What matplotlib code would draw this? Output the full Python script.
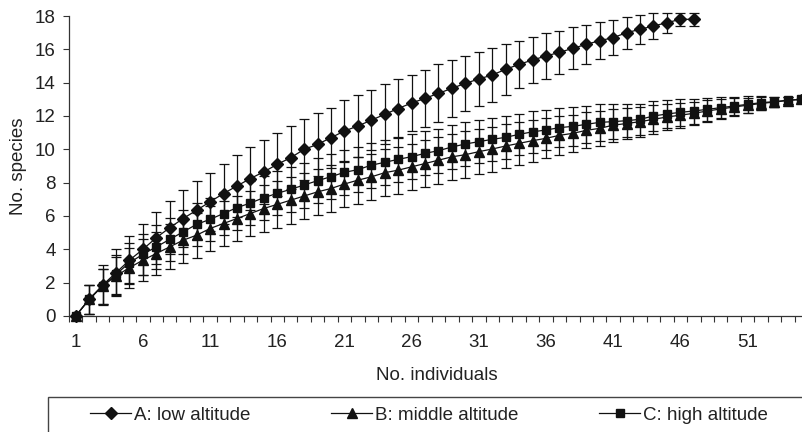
import numpy as np
import matplotlib
matplotlib.use("Agg")
import matplotlib.pyplot as plt
from matplotlib.patches import Rectangle

plt.rcParams['font.family'] = ['Liberation Sans', 'DejaVu Sans']

############################
# data
# A: low altitude (47 individuals)
low_mean = [0, 1.0, 1.85, 2.6, 3.35, 4.0, 4.7, 5.3, 5.85, 6.35,
            6.85, 7.35, 7.8, 8.25, 8.65, 9.1, 9.5, 10.0, 10.3, 10.7,
            11.1, 11.4, 11.75, 12.1, 12.45, 12.78, 13.06, 13.36, 13.66, 13.96,
            14.22, 14.46, 14.8, 15.1, 15.36, 15.6, 15.82, 16.06, 16.3, 16.52,
            16.7, 17.0, 17.2, 17.4, 17.6, 17.8, 17.8]
low_sd = [0, 0.85, 1.2, 1.4, 1.45, 1.55, 1.55, 1.6, 1.7, 1.75,
          1.75, 1.8, 1.85, 1.9, 1.9, 1.9, 1.9, 1.85, 1.9, 1.8,
          1.85, 1.85, 1.8, 1.8, 1.75, 1.7, 1.7, 1.74, 1.7, 1.64,
          1.64, 1.6, 1.52, 1.42, 1.36, 1.36, 1.3, 1.26, 1.16, 1.12,
          1.05, 0.95, 0.85, 0.78, 0.6, 0.4, 0.4]

# B: middle altitude (55 individuals)
mid_mean = [0, 1.0, 1.8, 2.4, 2.9, 3.35, 3.75, 4.15, 4.55, 4.85,
            5.25, 5.55, 5.85, 6.15, 6.45, 6.7, 6.95, 7.2, 7.45, 7.65,
            7.92, 8.15, 8.35, 8.6, 8.75, 8.95, 9.15, 9.35, 9.55, 9.68,
            9.86, 10.02, 10.2, 10.36, 10.52, 10.66, 10.84, 10.96, 11.14, 11.26,
            11.45, 11.55, 11.66, 11.8, 11.94, 12.05, 12.16, 12.3, 12.42, 12.54,
            12.65, 12.75, 12.84, 12.93, 13.0]
mid_sd = [0, 0.85, 1.05, 1.15, 1.2, 1.25, 1.3, 1.35, 1.35, 1.35,
          1.35, 1.35, 1.35, 1.35, 1.4, 1.4, 1.4, 1.4, 1.4, 1.4,
          1.4, 1.4, 1.4, 1.4, 1.4, 1.4, 1.4, 1.4, 1.4, 1.4,
          1.35, 1.35, 1.3, 1.3, 1.25, 1.2, 1.15, 1.12, 1.08, 1.05,
          1.0, 0.95, 0.9, 0.85, 0.8, 0.75, 0.7, 0.65, 0.6, 0.52,
          0.46, 0.4, 0.3, 0.2, 0]

# C: high altitude (55 individuals)
high_mean = [0, 1.0, 1.8, 2.5, 3.2, 3.7, 4.15, 4.6, 5.05, 5.5,
             5.8, 6.15, 6.5, 6.78, 7.1, 7.36, 7.6, 7.86, 8.12, 8.36,
             8.62, 8.78, 9.05, 9.22, 9.4, 9.56, 9.76, 9.92, 10.14, 10.32,
             10.46, 10.6, 10.72, 10.9, 11.05, 11.16, 11.3, 11.38, 11.5, 11.62,
             11.66, 11.72, 11.8, 12.0, 12.12, 12.22, 12.3, 12.4, 12.5, 12.6,
             12.7, 12.8, 12.86, 12.95, 13.0]
high_sd = [0, 0.85, 1.05, 1.15, 1.2, 1.25, 1.3, 1.3, 1.3, 1.3,
           1.3, 1.3, 1.32, 1.32, 1.32, 1.32, 1.35, 1.35, 1.35, 1.35,
           1.35, 1.35, 1.35, 1.35, 1.35, 1.35, 1.32, 1.32, 1.3, 1.3,
           1.3, 1.28, 1.28, 1.25, 1.25, 1.2, 1.18, 1.15, 1.12, 1.1,
           1.06, 1.0, 0.95, 0.9, 0.85, 0.8, 0.75, 0.7, 0.62, 0.55,
           0.5, 0.42, 0.3, 0.2, 0]

series = [("A: low altitude", low_mean, low_sd, "D", 5.8),
          ("B: middle altitude", mid_mean, mid_sd, "^", 7),
          ("C: high altitude", high_mean, high_sd, "s", 6)]

tick_labels = ["1", "6", "11", "16", "21", "26", "31", "36", "41", "46", "51"]
#############################################

ink = "#111111"
txt = "#222222"
fs = 13.5
fig = plt.figure(figsize=(8.03, 4.32), dpi=100)
ax = fig.add_axes([69 / 803, 116 / 432, 739 / 803, 300 / 432])

handles = []
for name, mean, sd, marker, ms in series:
    n = np.arange(1, len(mean) + 1)
    eb = ax.errorbar(n, mean, yerr=sd, fmt="none", ecolor=ink, elinewidth=0.9,
                     capsize=3.6, capthick=0.9)
    for art in eb.lines[1] + eb.lines[2]:
        art.set_clip_on(False)
    line, = ax.plot(n, mean, color=ink, lw=0.9, marker=marker, ms=ms,
                    mfc=ink, mec=ink, label=name, clip_on=False, zorder=3)
    handles.append(line)

ax.set_xlim(0.5, 55.5)
ax.set_ylim(0, 18)
ax.set_yticks(range(0, 19, 2))
ax.set_xticks(np.arange(0.5, 56, 1.0))
ax.set_xticklabels([])
ax.set_xticks([int(t) for t in tick_labels], minor=True)
ax.set_xticklabels(tick_labels, minor=True)
ax.tick_params(axis="x", which="major", direction="out", length=4.5, width=0.8, color="#333333")
ax.tick_params(axis="x", which="minor", length=0, pad=13, labelsize=fs, labelcolor=txt)
ax.tick_params(axis="y", direction="out", length=4.5, width=0.8, pad=5,
               labelsize=fs, labelcolor=txt, color="#333333")
for side in ["top", "right"]:
    ax.spines[side].set_visible(False)
for side in ["left", "bottom"]:
    ax.spines[side].set_color("#333333")
    ax.spines[side].set_linewidth(0.9)

ax.set_ylabel("No. species", fontsize=fs, color=txt, labelpad=6)
fig.text(437 / 803, 1 - 376 / 432, "No. individuals", fontsize=fs, color=txt,
         ha="center", va="center")

# legend box, cut by the right and bottom edges like the original
fig.patches.append(Rectangle((48.5 / 803, -0.1), 1.0, 0.1 + 35 / 432,
                             transform=fig.transFigure, fill=False,
                             edgecolor="#444444", lw=1.0))
legend_x = [90 / 803, 331 / 803, 599 / 803]
for h, lx in zip(handles, legend_x):
    fig.legend(handles=[h], loc="center left", bbox_to_anchor=(lx, 1 - 415 / 432),
               frameon=False, fontsize=fs, handlelength=2.2, handletextpad=0.15,
               borderaxespad=0, borderpad=0, labelcolor=txt)

fig.savefig("out.png", dpi=100)
